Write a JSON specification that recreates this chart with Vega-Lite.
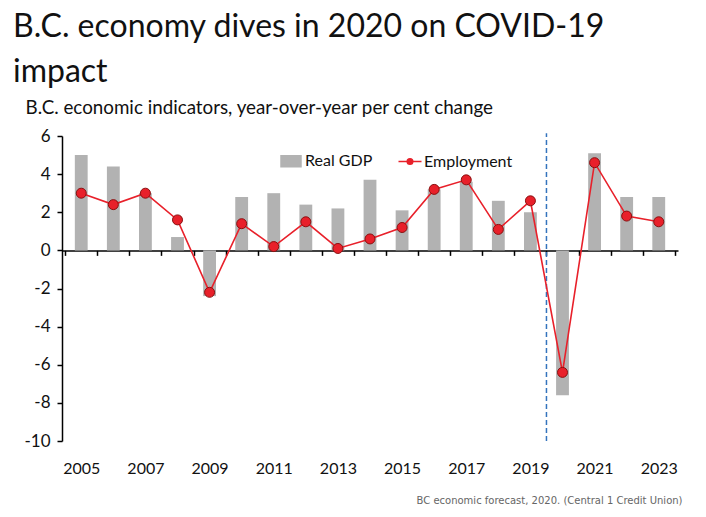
{
  "$schema": "https://vega.github.io/schema/vega-lite/v6.json",
  "width": 616,
  "height": 305,
  "autosize": {"type": "none"},
  "padding": {"left": 62, "top": 136, "right": 28, "bottom": 76},
  "background": "white",
  "config": {
    "view": {"stroke": null},
    "font": "Lato",
    "axisY": {
      "titleAngle": 0,
      "titleAlign": "left",
      "titleBaseline": "alphabetic",
      "titleX": -37,
      "titleY": -23,
      "titleFontSize": 18.8,
      "titleFontWeight": "normal",
      "titleColor": "#111111",
      "labelOverlap": false,
      "labelFlush": false,
      "grid": false,
      "labelFontSize": 17,
      "labelColor": "#111111",
      "labelPadding": 7,
      "tickSize": 5,
      "tickColor": "#000000",
      "tickWidth": 1.5,
      "domainColor": "#000000",
      "domainWidth": 1.5
    }
  },
  "title": {
    "text": ["B.C. economy dives in 2020 on COVID-19", "impact"],
    "anchor": "start",
    "frame": "group",
    "dx": -49,
    "fontSize": 32,
    "fontWeight": "normal",
    "font": "Lato",
    "color": "#111111",
    "lineHeight": 45,
    "offset": 9
  },
  "data": {
    "values": [
      {"year": "2005", "gdp": 5.0, "employment": 3.0},
      {"year": "2006", "gdp": 4.4, "employment": 2.4},
      {"year": "2007", "gdp": 3.0, "employment": 3.0},
      {"year": "2008", "gdp": 0.7, "employment": 1.6},
      {"year": "2009", "gdp": -2.4, "employment": -2.2},
      {"year": "2010", "gdp": 2.8, "employment": 1.4},
      {"year": "2011", "gdp": 3.0, "employment": 0.2},
      {"year": "2012", "gdp": 2.4, "employment": 1.5},
      {"year": "2013", "gdp": 2.2, "employment": 0.1},
      {"year": "2014", "gdp": 3.7, "employment": 0.6},
      {"year": "2015", "gdp": 2.1, "employment": 1.2},
      {"year": "2016", "gdp": 3.2, "employment": 3.2},
      {"year": "2017", "gdp": 3.6, "employment": 3.7},
      {"year": "2018", "gdp": 2.6, "employment": 1.1},
      {"year": "2019", "gdp": 2.0, "employment": 2.6},
      {"year": "2020", "gdp": -7.6, "employment": -6.4},
      {"year": "2021", "gdp": 5.1, "employment": 4.6},
      {"year": "2022", "gdp": 2.8, "employment": 1.8},
      {"year": "2023", "gdp": 2.8, "employment": 1.5}
    ]
  },
  "encoding": {
    "x": {
      "field": "year",
      "type": "ordinal",
      "scale": {"paddingInner": 0, "paddingOuter": 0.1},
      "axis": {
        "title": "BC economic forecast, 2020. (Central 1 Credit Union)",
        "titleFont": "DejaVu Sans",
        "titleFontSize": 10,
        "titleFontWeight": "normal",
        "titleColor": "#666666",
        "titleAlign": "right",
        "titleAnchor": "end",
        "titleBaseline": "alphabetic",
        "titleX": 620,
        "titleY": {"expr": "height - scale('y', 0) + 62"},
        "labelAngle": 0,
        "labelFontSize": 16,
        "labelColor": "#111111",
        "labelExpr": "parseInt(datum.value) % 2 == 1 ? datum.label : ''",
        "labelPadding": {"expr": "height - scale('y', 0) + 14"},
        "tickBand": "extent",
        "tickSize": 5,
        "tickColor": "#000000",
        "tickWidth": 1.5,
        "domainColor": "#000000",
        "domainWidth": 1.5,
        "offset": {"expr": "scale('y', 0) - height"}
      }
    }
  },
  "layer": [
    {
      "mark": {"type": "bar", "width": {"band": 0.4}},
      "encoding": {
        "y": {
          "field": "gdp",
          "type": "quantitative",
          "scale": {"domain": [-10, 6], "nice": false},
          "axis": {
            "title": "B.C. economic indicators, year-over-year per cent change",
            "values": [-10, -8, -6, -4, -2, 0, 2, 4, 6],
            "labelExpr": "replace(datum.label, '\u2212', '-')"
          }
        },
        "color": {
          "datum": "Real GDP",
          "type": "nominal",
          "scale": {"domain": ["Real GDP", "Employment"], "range": ["#b2b2b2", "#e8202a"]},
          "legend": {
            "title": null,
            "orient": "none",
            "legendX": 218,
            "legendY": 14,
            "direction": "horizontal",
            "columns": 2,
            "columnPadding": 22,
            "labelFontSize": 16,
            "labelColor": "#111111",
            "labelOffset": 3,
            "symbolSize": 400,
            "encode": {
              "symbols": {
                "update": {
                  "shape": {"signal": "datum.value === 'Real GDP' ? 'M-1,-0.55H1V0.55H-1Z' : 'M-1.15,0H-0.28M0.28,0H1.15M-0.28,0A0.28,0.28,0,1,1,0.28,0A0.28,0.28,0,1,1,-0.28,0Z'"},
                  "fill": {"signal": "datum.value === 'Real GDP' ? '#b2b2b2' : '#e8202a'"},
                  "stroke": {"signal": "datum.value === 'Real GDP' ? '#b2b2b2' : '#d0101a'"},
                  "strokeWidth": {"value": 1.5},
                  "opacity": {"value": 1}
                }
              }
            }
          }
        }
      }
    },
    {
      "data": {"values": [{"year": "2019"}]},
      "mark": {"type": "rule", "color": "#3473bd", "strokeDash": [5, 3], "strokeWidth": 1.5},
      "encoding": {
        "x": {"field": "year", "type": "ordinal", "bandPosition": 1},
        "y": {
          "datum": -10,
          "type": "quantitative",
          "axis": {
            "title": "B.C. economic indicators, year-over-year per cent change",
            "values": [-10, -8, -6, -4, -2, 0, 2, 4, 6],
            "labelExpr": "replace(datum.label, '\u2212', '-')"
          }
        },
        "y2": {"datum": 6.15}
      }
    },
    {
      "mark": {"type": "line", "color": "#e8202a", "strokeWidth": 1.6},
      "encoding": {
        "y": {
          "field": "employment",
          "type": "quantitative",
          "axis": {
            "title": "B.C. economic indicators, year-over-year per cent change",
            "values": [-10, -8, -6, -4, -2, 0, 2, 4, 6],
            "labelExpr": "replace(datum.label, '\u2212', '-')"
          }
        },
        "color": {"datum": "Employment", "type": "nominal"}
      }
    },
    {
      "mark": {"type": "point", "filled": true, "size": 100, "fill": "#e8202a", "stroke": "#8a1010", "strokeWidth": 1, "opacity": 1},
      "encoding": {
        "y": {
          "field": "employment",
          "type": "quantitative",
          "axis": {
            "title": "B.C. economic indicators, year-over-year per cent change",
            "values": [-10, -8, -6, -4, -2, 0, 2, 4, 6],
            "labelExpr": "replace(datum.label, '\u2212', '-')"
          }
        }
      }
    }
  ]
}
